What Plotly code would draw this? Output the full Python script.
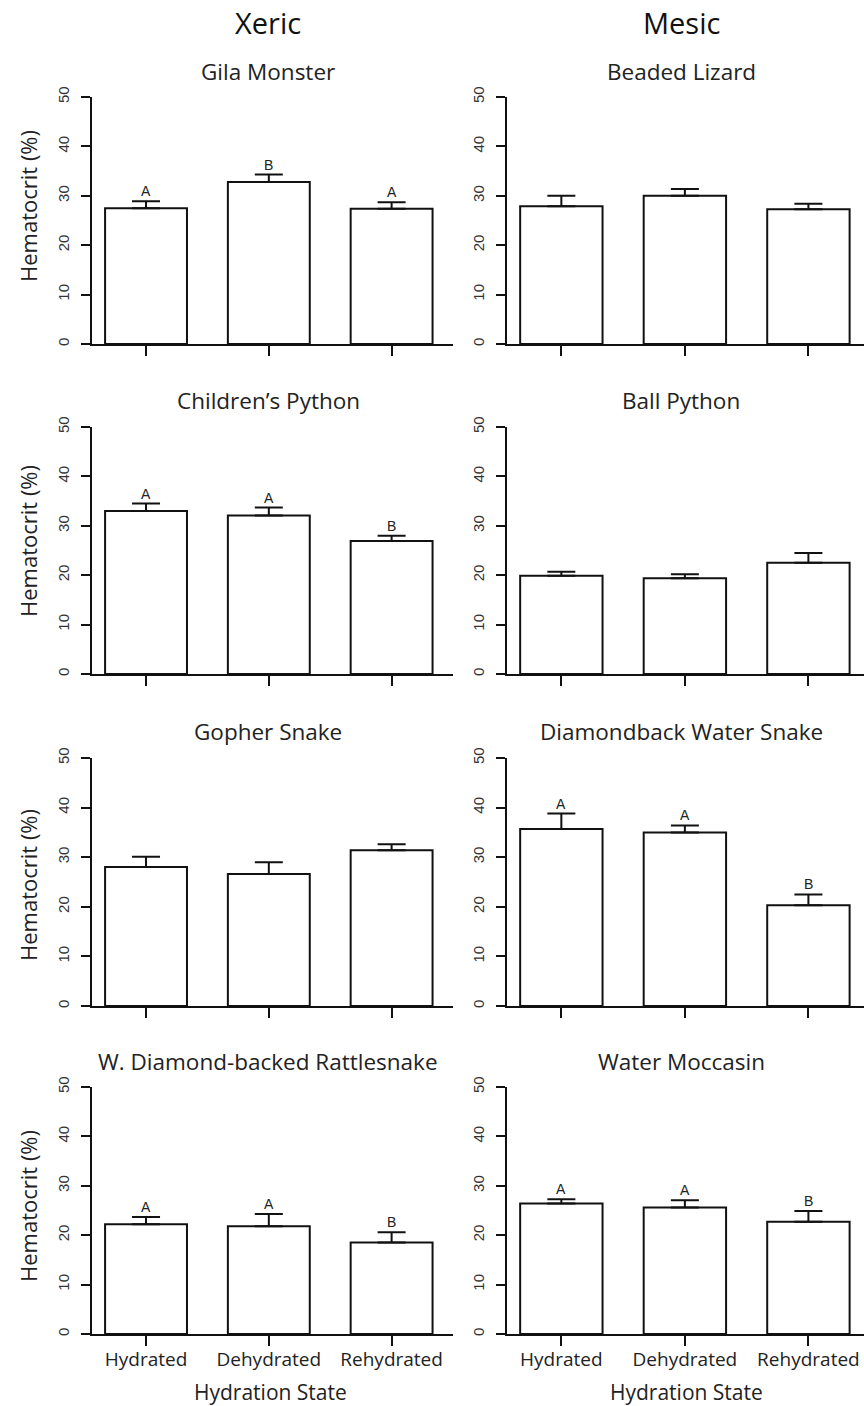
import plotly.graph_objects as go

W, H = 864, 1406

states = ["Hydrated", "Dehydrated", "Rehydrated"]
species = ["Gila Monster", "Beaded Lizard",
           "Children\u2019s Python", "Ball Python",
           "Gopher Snake", "Diamondback Water Snake",
           "W. Diamond-backed Rattlesnake", "Water Moccasin"]
means = [
    [27.5, 32.8, 27.4],
    [27.9, 30.0, 27.3],
    [33.0, 32.1, 26.9],
    [19.9, 19.4, 22.5],
    [28.0, 26.6, 31.4],
    [35.7, 35.0, 20.3],
    [22.2, 21.8, 18.5],
    [26.4, 25.6, 22.7],
]
upper = [
    [28.9, 34.3, 28.7],
    [30.0, 31.4, 28.4],
    [34.5, 33.7, 28.0],
    [20.7, 20.2, 24.5],
    [30.1, 29.0, 32.6],
    [38.8, 36.4, 22.5],
    [23.7, 24.3, 20.6],
    [27.3, 27.1, 24.9],
]
letters = [
    ["A", "B", "A"],
    None,
    ["A", "A", "B"],
    None,
    None,
    ["A", "A", "B"],
    ["A", "A", "B"],
    ["A", "A", "B"],
]
y_ticks = [0, 10, 20, 30, 40, 50]
col_titles = ["Xeric", "Mesic"]

# layout geometry (pixels)
row_top = [97, 427, 758, 1087]
row_bot = [344, 674, 1006, 1334]
col_left = [92, 507]
col_right = [453, 864]
x_ranges = [[-0.44, 2.5], [-0.44, 2.45]]
title_x = [268, 681]
xtitle_x = [270, 686]
ytitle_y = [206, 541, 885, 1206]


def px(v):
    return v / W


def py(v):
    return 1 - v / H


TXT_FONT = "Open Sans"
NUM_FONT = "Liberation Sans"
LINE = "#111111"

fig = go.Figure()
annotations = []
shapes = []

for k, sp in enumerate(species):
    r, c = divmod(k, 2)
    idx = k + 1
    xa = "x" if idx == 1 else f"x{idx}"
    ya = "y" if idx == 1 else f"y{idx}"
    m = means[k]
    err = [u - v for u, v in zip(upper[k], m)]
    fig.add_trace(go.Bar(
        x=[0, 1, 2], y=m, width=0.667,
        marker=dict(color="white", line=dict(color=LINE, width=2)),
        error_y=dict(type="data", symmetric=False, array=err,
                     arrayminus=[0, 0, 0], color=LINE, thickness=2, width=14),
        xaxis=xa, yaxis=ya, showlegend=False, hoverinfo="skip",
    ))
    dom_x = [px(col_left[c]), min(px(col_right[c]), 1)]
    dom_y = [py(row_bot[r]), py(row_top[r])]
    bottom = (r == 3)
    fig.layout[f"xaxis{'' if idx == 1 else idx}"] = dict(
        domain=dom_x, range=x_ranges[c], anchor=ya, automargin=False,
        tickmode="array", tickvals=[0, 1, 2],
        ticktext=states if bottom else ["", "", ""],
        showticklabels=bottom, ticklabelstandoff=-3,
        ticks="outside", ticklen=10, tickwidth=2, tickcolor=LINE,
        showline=True, linecolor=LINE, linewidth=2,
        showgrid=False, zeroline=False, fixedrange=True,
        tickfont=dict(family=TXT_FONT, size=19, color="#222"),
    )
    fig.layout[f"yaxis{'' if idx == 1 else idx}"] = dict(
        domain=dom_y, range=[0, 50], anchor=xa, automargin=False,
        tickmode="array", tickvals=y_ticks,
        ticks="outside", ticklen=9, tickwidth=2, tickcolor=LINE,
        tickangle=-90, ticklabelstandoff=6,
        showline=True, linecolor=LINE, linewidth=2,
        showgrid=False, zeroline=False, fixedrange=True,
        tickfont=dict(family=NUM_FONT, size=15, color="#333"),
    )
    # short extension of baseline to the left of the y axis (R-style)
    shapes.append(dict(type="line", xref="paper", yref="paper",
                       x0=px(col_left[c] - 9), x1=px(col_left[c]),
                       y0=py(row_bot[r]), y1=py(row_bot[r]),
                       line=dict(color=LINE, width=2)))
    # panel title
    annotations.append(dict(
        text=sp, xref="paper", yref="paper",
        x=px(title_x[c]), y=py(row_top[r] - 26),
        xanchor="center", yanchor="middle", showarrow=False,
        font=dict(family=TXT_FONT, size=22.5, color="#222")))
    # significance letters
    if letters[k]:
        for i, L in enumerate(letters[k]):
            annotations.append(dict(
                text=L, xref=xa, yref=ya, x=i, y=upper[k][i],
                xanchor="center", yanchor="bottom", yshift=0,
                showarrow=False,
                font=dict(family=NUM_FONT, size=14, color="#222")))
    # y axis title on left column
    if c == 0:
        annotations.append(dict(
            text="Hematocrit (%)", xref="paper", yref="paper",
            x=px(28), y=py(ytitle_y[r]), textangle=-90,
            xanchor="center", yanchor="middle", showarrow=False,
            font=dict(family=TXT_FONT, size=22, color="#222")))
    # x axis title on bottom row
    if bottom:
        annotations.append(dict(
            text="Hydration State", xref="paper", yref="paper",
            x=px(xtitle_x[c]), y=py(1392),
            xanchor="center", yanchor="middle", showarrow=False,
            font=dict(family=TXT_FONT, size=21, color="#222")))

for c, t in enumerate(col_titles):
    annotations.append(dict(
        text=t, xref="paper", yref="paper",
        x=px(title_x[c]), y=py(23), borderpad=0,
        xanchor="center", yanchor="middle", showarrow=False,
        font=dict(family=TXT_FONT, size=29, color="#111")))

fig.update_layout(
    width=W, height=H,
    margin=dict(l=0, r=0, t=0, b=0, autoexpand=False),
    paper_bgcolor="white", plot_bgcolor="white",
    annotations=annotations, shapes=shapes,
    bargap=0,
)

fig.write_html(
    "out.html",
    config={"displayModeBar": False, "staticPlot": True},
    post_script="document.body.style.margin='0';"
                "document.body.style.overflow='hidden';",
)
